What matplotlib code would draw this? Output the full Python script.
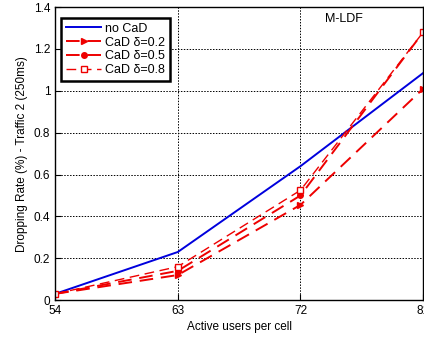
import matplotlib
matplotlib.use('Agg')
import matplotlib.pyplot as plt

plt.rcParams['font.family'] = ['Liberation Sans', 'DejaVu Sans']

# users per cell
users = [54, 63, 72, 81]

# dropping rate (%) for traffic 2
no_cad = [0.03, 0.23, 0.64, 1.085]
cad_02 = [0.03, 0.12, 0.455, 1.01]
cad_05 = [0.03, 0.14, 0.50, 1.28]
cad_08 = [0.03, 0.16, 0.525, 1.28]

fig = plt.figure(figsize=(4.24, 3.38), dpi=100)
ax = fig.add_axes([0.13, 0.112, 0.868, 0.867])

dash = (0, (7, 4))
ax.plot(users, no_cad, color='#0000dd', lw=1.4, label='no CaD')
ax.plot(users, cad_02, color='#ee0000', lw=1.4, ls=dash, marker='>',
        ms=5, label='CaD δ=0.2')
ax.plot(users, cad_05, color='#ee0000', lw=1.4, ls=dash, marker='o',
        ms=4, label='CaD δ=0.5')
ax.plot(users, cad_08, color='#ee0000', lw=1.0, ls=dash, marker='s',
        ms=5, mfc='white', label='CaD δ=0.8')

ax.set_xlim(54, 81)
ax.set_ylim(0, 1.4)
ax.set_xticks(users)
ax.set_yticks([0, 0.2, 0.4, 0.6, 0.8, 1, 1.2, 1.4])
ax.set_yticklabels(['0', '0.2', '0.4', '0.6', '0.8', '1', '1.2', '1.4'])
ax.tick_params(direction='in', labelsize=8.5, length=4)
ax.grid(True, color='black', ls=(0, (1.5, 1.5)), lw=0.7)
for s in ax.spines.values():
    s.set_linewidth(1.0)

ax.set_xlabel('Active users per cell', fontsize=8.5, labelpad=3)
ax.set_ylabel('Dropping Rate (%) - Traffic 2 (250ms)', fontsize=8.5)
ax.text(73.8, 1.33, 'M-LDF', fontsize=9)

leg = ax.legend(loc='upper left', bbox_to_anchor=(0.0, 0.985), fontsize=9,
                fancybox=False, framealpha=1, edgecolor='black',
                handlelength=2.8, borderpad=0.4, labelspacing=0.15,
                handletextpad=0.3, borderaxespad=0.5)
leg.get_frame().set_linewidth(1.8)

fig.savefig('out.png', dpi=100)
